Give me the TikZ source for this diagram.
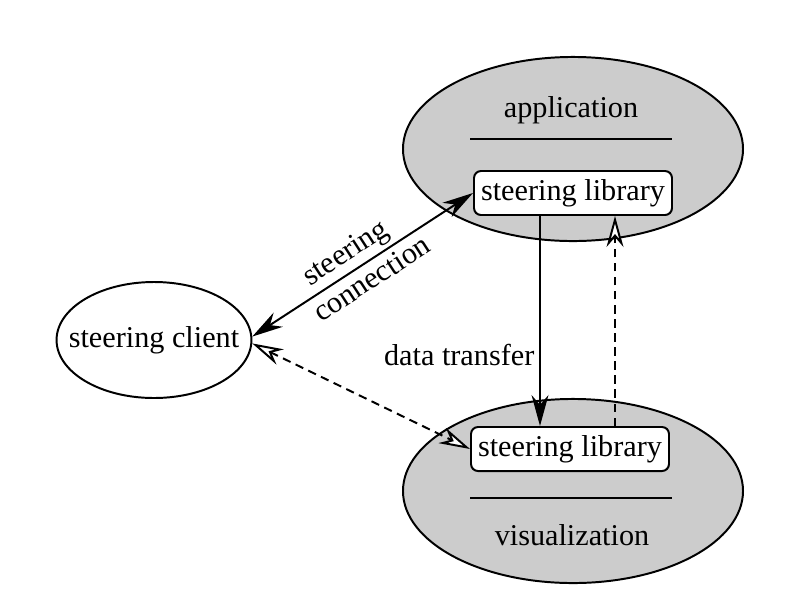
\documentclass[tikz,border=0pt]{standalone}
\usepackage{fontspec}
\setmainfont{Liberation Serif}
\usetikzlibrary{shapes.geometric,arrows.meta}
\begin{document}
\begin{tikzpicture}[
            x=0.025cm, y=-0.025cm,
            font=\fontsize{21.5}{25}\selectfont,
            comp/.style={
                ellipse,draw,fill=black!20,line width=1.4pt,
                minimum width=241.8pt, minimum height=130.9pt,
            },
            lib/.style={
                rectangle,draw,fill=white,rounded corners=5pt,line width=1.4pt,
                minimum width=140.8pt, minimum height=31.3pt, inner sep=2pt,
            },
            conn/.style={line width=1.4pt},
            dsh/.style={dash pattern=on 6pt off 4pt},
            tp/.tip={Stealth[length=22pt,width=12pt,inset=7pt]},
            otp/.tip={Stealth[length=22pt,width=12pt,inset=7pt,fill=white]},
        ]
        \useasboundingbox (0, 0) rectangle (802, 594);

        % components
        \draw node[comp] (app) at (573, 149) {};
        \draw node[comp] (vis) at (573, 491) {};
        \draw node[ellipse,draw,line width=1.4pt,minimum width=138.6pt,minimum height=82.5pt,inner sep=0pt] (client) at (154, 340) {};
        \draw node (clientname) at (client.center) {steering client};

        \draw node (appname) at (571, 110) {application};
        \draw node (visname) at (572, 535) {visualization};
        \draw[conn] (470, 139) -- (672, 139);
        \draw[conn] (470, 498) -- (672, 498);

        \draw node[lib] (libA) at (573, 193) {steering library};
        \draw node[lib] (libV) at (570, 449) {steering library};

        % connections
        \coordinate (dtx) at (540, 0);
        \coordinate (ctx) at (615, 0);
        \draw[conn,-tp] (libA.south -| dtx) -- node[left, pos=0.66] {data transfer} (libV.north -| dtx);
        \draw[conn,dsh,-otp] (libV.north -| ctx) -- (libA.south -| ctx);

        \draw[conn,tp-tp] (client.2) -- node[pos=0.47, sloped, anchor=center, yshift=12.5pt] {steering} node[pos=0.50, sloped, anchor=center, yshift=-11.5pt] {connection} (libA.west);
        \draw[conn,dsh,otp-otp] (client.-2) -- (libV.west);
    \end{tikzpicture}
\end{document}
